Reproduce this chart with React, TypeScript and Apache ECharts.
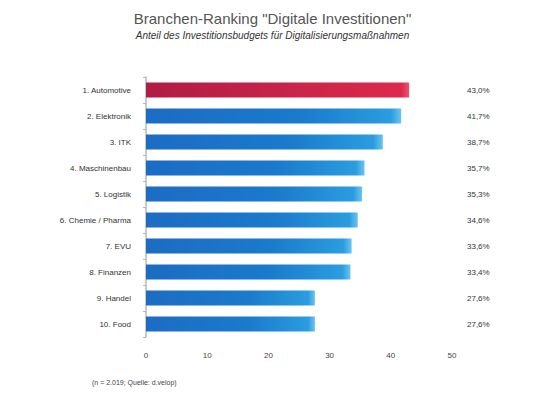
import React, { useEffect, useRef } from 'react';
import * as echarts from 'echarts';

const categories = [
    '1. Automotive',
    '2. Elektronik',
    '3. ITK',
    '4. Maschinenbau',
    '5. Logistik',
    '6. Chemie / Pharma',
    '7. EVU',
    '8. Finanzen',
    '9. Handel',
    '10. Food',
];

const shares = [43.0, 41.7, 38.7, 35.7, 35.3, 34.6, 33.6, 33.4, 27.6, 27.6];

const xTicks = [0, 10, 20, 30, 40, 50];

const fmt = (v: number) => v.toFixed(1).replace('.', ',') + '%';

const redFill = new echarts.graphic.LinearGradient(0, 0, 1, 0, [
    { offset: 0, color: '#b01c44' },
    { offset: 0.97, color: '#dc2a4c' },
    { offset: 1, color: '#e8566e' },
]);

const blueFill = new echarts.graphic.LinearGradient(0, 0, 1, 0, [
    { offset: 0, color: '#1c6cc4' },
    { offset: 0.6, color: '#1a7acb' },
    { offset: 0.96, color: '#2a9ddf' },
    { offset: 1, color: '#6cc4ee' },
]);

const App: React.FC = () => {
    const chartRef = useRef<HTMLDivElement>(null);

    useEffect(() => {
        if (!chartRef.current) return;
        const chart = echarts.init(chartRef.current, null, { renderer: 'svg' });

        chart.setOption({
            animation: false,
            backgroundColor: '#ffffff',
            title: {
                text: 'Branchen-Ranking "Digitale Investitionen"',
                subtext: 'Anteil des Investitionsbudgets für Digitalisierungsmaßnahmen',
                left: 'center',
                top: 6,
                itemGap: 4,
                textStyle: {
                    fontFamily: 'Liberation Sans',
                    fontSize: 15,
                    fontWeight: 'normal',
                    color: '#555555',
                },
                subtextStyle: {
                    fontFamily: 'Liberation Sans',
                    fontSize: 10,
                    fontStyle: 'italic',
                    color: '#333333',
                },
            },
            grid: {
                left: 146,
                right: 93,
                top: 77,
                bottom: 63,
            },
            xAxis: {
                type: 'value',
                min: 0,
                max: xTicks[xTicks.length - 1],
                interval: 10,
                splitLine: { show: false },
                axisLine: { show: false },
                axisTick: { show: false },
                axisLabel: {
                    margin: 14,
                    fontFamily: 'Liberation Sans',
                    fontSize: 8,
                    color: '#444444',
                },
            },
            yAxis: [
                {
                    type: 'category',
                    data: categories,
                    inverse: true,
                    axisLine: { show: true, lineStyle: { color: '#b8b8b8', width: 1.5 } },
                    axisTick: { show: true, length: 3, lineStyle: { color: '#b8b8b8' } },
                    axisLabel: {
                        margin: 15,
                        fontFamily: 'Liberation Sans',
                        fontSize: 8,
                        color: '#333333',
                    },
                },
                {
                    type: 'category',
                    data: shares.map(fmt),
                    inverse: true,
                    position: 'right',
                    axisLine: { show: false },
                    axisTick: { show: false },
                    axisLabel: {
                        margin: 15,
                        fontFamily: 'Liberation Sans',
                        fontSize: 8,
                        color: '#333333',
                    },
                },
            ],
            series: [
                {
                    type: 'bar',
                    yAxisIndex: 0,
                    barWidth: '58%',
                    data: shares.map((v, i) => ({
                        value: v,
                        itemStyle: { color: i === 0 ? redFill : blueFill },
                    })),
                },
            ],
            graphic: [
                {
                    type: 'text',
                    left: 92,
                    top: 379,
                    style: {
                        text: '(n = 2.019; Quelle: d.velop)',
                        fontFamily: 'Liberation Sans',
                        fontSize: 7,
                        fill: '#444444',
                    },
                },
            ],
        });

        return () => {
            chart.dispose();
        };
    }, []);

    return (
        <div
            ref={chartRef}
            style={{ position: 'absolute', left: 0, top: 0, width: '545px', height: '400px' }}
        />
    );
};

export default App;
